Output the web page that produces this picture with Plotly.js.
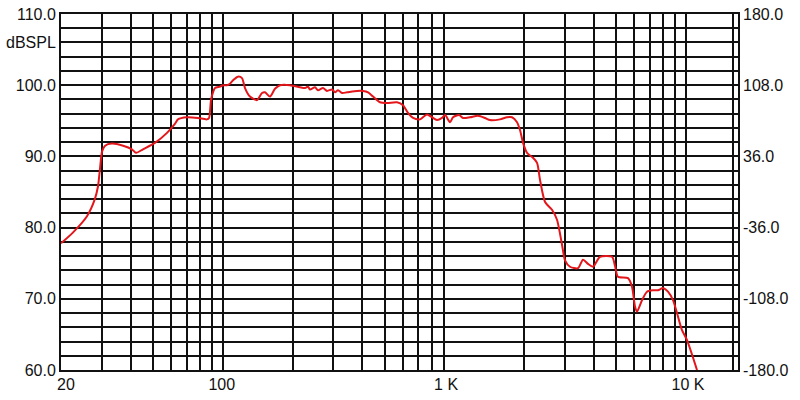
<!DOCTYPE html>
<html>
<head>
<meta charset="utf-8">
<script src="https://cdn.plot.ly/plotly-3.0.1.min.js"></script>
<style>html,body{margin:0;padding:0;background:#fff;}#chart{width:800px;height:400px;}</style>
</head>
<body>
<div id="chart"></div>
<script>
// Frequency (Hz) and SPL (dB)
var freqHz = [20, 22.5, 25.9, 28, 28.9, 29.5, 30.1, 31, 33.2, 37.1, 40.5, 42.2, 45.2, 50.9, 57.4, 62.2, 64, 70, 78.1, 85.4, 87.2, 88.9, 90.7, 92.5, 97.2, 100.2, 104.3, 107.4, 110.7, 116.3, 121, 124.7, 131, 140.5, 147.7, 152.2, 159.9, 168, 176.6, 195.1, 215.5, 226.5, 233.3, 238.1, 250.2, 257.8, 270.9, 281.9, 296.3, 305.3, 314.6, 327.3, 343.9, 379.9, 403.3, 424, 445.6, 477.5, 512.1, 565.6, 600.3, 631, 663.1, 711.1, 762.1, 800.9, 841.9, 884.8, 911.8, 958.1, 987, 1048, 1090, 1169, 1266, 1357, 1426, 1575, 1689, 1775, 1866, 1922, 1981, 2061, 2187, 2277, 2345, 2466, 2642, 2777, 2919, 3007, 3160, 3422, 3597, 3781, 3972, 4259, 4799, 4945, 5093, 5626, 5855, 6033, 6154, 6467, 6796, 7214, 7582, 7968, 8375, 8802, 9160, 9627, 10118, 11177];
var splDb = [77.8, 79.3, 81.6, 84.0, 85.8, 88.4, 90.7, 91.5, 91.8, 91.5, 91.0, 90.5, 91.0, 91.9, 93.3, 94.6, 95.2, 95.5, 95.4, 95.2, 95.4, 97.9, 99.0, 99.6, 99.8, 100.0, 100.0, 100.2, 100.7, 101.2, 101.0, 99.6, 98.4, 97.9, 98.9, 99.0, 98.4, 99.5, 100.0, 100.0, 99.7, 99.6, 99.8, 99.4, 99.7, 99.3, 99.6, 99.2, 99.4, 99.0, 99.3, 98.9, 99.0, 99.2, 99.2, 99.0, 98.4, 97.6, 97.5, 97.6, 97.2, 96.1, 95.4, 95.2, 95.9, 95.5, 95.1, 95.4, 95.8, 94.8, 95.5, 95.8, 95.4, 95.5, 95.7, 95.4, 95.1, 95.2, 95.5, 95.5, 94.8, 93.7, 91.9, 90.5, 89.8, 89.1, 86.7, 83.6, 82.5, 81.1, 77.6, 75.4, 74.5, 74.3, 75.5, 74.9, 74.5, 75.9, 75.9, 74.6, 73.1, 72.9, 71.7, 68.9, 68.2, 69.8, 71.0, 71.2, 71.2, 71.5, 71.0, 69.8, 68.0, 65.6, 64.2, 60.0];

// Vertical grid lines (the reference has no 1 K line)
var xGridVals = [20, 30, 40, 50, 60, 70, 80, 90, 100, 200, 300, 400, 500, 600, 700, 800, 900, 2000, 3000, 4000, 5000, 6000, 7000, 8000, 9000, 10000, 16000];
// X tick labels
var xLabelVals = [21, 99, 921, 10220];
var xLabelText = ['20', '100', '1 K', '10 K'];
// Left axis: grid every 2 dB, labels every 10 dB
var yGridVals = [60, 62, 64, 66, 68, 70, 72, 74, 76, 78, 80, 82, 84, 86, 88, 90, 92, 94, 96, 98, 100, 102, 104, 106, 108, 110];
var yGridText = ['60.0', '', '', '', '', '70.0', '', '', '', '', '80.0', '', '', '', '', '90.0', '', '', '', '', '100.0', '', '', 'dBSPL', '', '110.0'];
// Right axis (phase)
var phaseVals = [-180, -108, -36, 36, 108, 180];
var phaseText = ['-180.0', '-108.0', '-36.0', '36.0', '108.0', '180.0'];

var xRange = [Math.log10(20), 4.2254];
var font = {family: 'Liberation Sans, Arial, sans-serif', size: 16, color: '#111'};

var traces = [
  { // axis holder so the label axes are drawn (draws nothing)
    x: freqHz, y: splDb, type: 'scatter', mode: 'none',
    xaxis: 'x', yaxis: 'y2', hoverinfo: 'skip'
  },
  {
    x: freqHz, y: splDb, type: 'scatter', mode: 'lines',
    line: {color: '#e3161b', width: 2, shape: 'spline', smoothing: 0.7},
    xaxis: 'x2', yaxis: 'y', hoverinfo: 'skip'
  }
];

var layout = {
  width: 800, height: 400,
  margin: {l: 61, r: 62, t: 14, b: 30, pad: 0},
  paper_bgcolor: '#fff', plot_bgcolor: '#fff',
  showlegend: false,
  font: font,
  xaxis: {
    type: 'log', range: xRange, tickmode: 'array', tickvals: xLabelVals, ticktext: xLabelText,
    showgrid: false, zeroline: false, showline: false, ticks: '', ticklen: 0,
    ticklabelstandoff: 3,
    tickfont: font, anchor: 'y', fixedrange: true
  },
  xaxis2: {
    type: 'log', range: xRange, overlaying: 'x', anchor: 'y', side: 'bottom',
    tickmode: 'array', tickvals: xGridVals, showticklabels: false,
    showgrid: true, gridcolor: '#111', gridwidth: 2,
    showline: true, mirror: true, linecolor: '#111', linewidth: 2,
    zeroline: false, ticks: '', fixedrange: true
  },
  yaxis: {
    range: [60, 110], tickmode: 'array', tickvals: yGridVals, ticktext: yGridText,
    showgrid: true, gridcolor: '#111', gridwidth: 2,
    showline: true, mirror: true, linecolor: '#111', linewidth: 2,
    zeroline: false, ticks: '', ticklen: 0, tickfont: font, fixedrange: true
  },
  yaxis2: {
    range: [-180, 180], overlaying: 'y', side: 'right', anchor: 'x',
    tickmode: 'array', tickvals: phaseVals, ticktext: phaseText,
    showgrid: false, zeroline: false, showline: false, ticks: '', ticklen: 0,
    ticklabelstandoff: 4,
    tickfont: font, fixedrange: true
  }
};

Plotly.newPlot('chart', traces, layout, {staticPlot: true, displayModeBar: false});
</script>
</body>
</html>
